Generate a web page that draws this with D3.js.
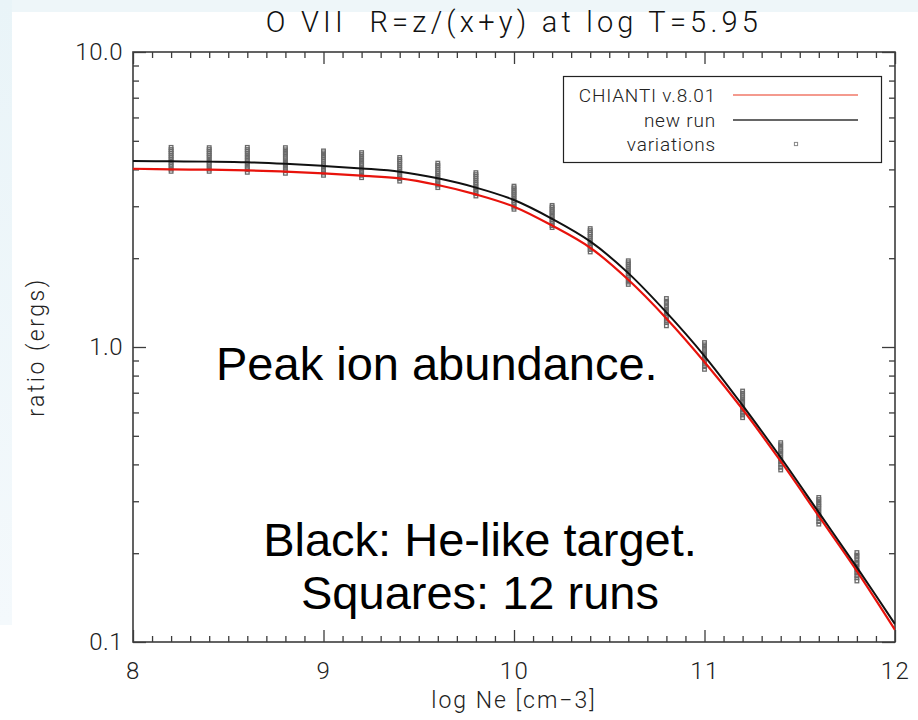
<!DOCTYPE html>
<html>
<head>
<meta charset="utf-8">
<script src="https://cdn.jsdelivr.net/npm/d3@7/dist/d3.min.js"></script>
<style>
  html, body { margin: 0; padding: 0; background: #ffffff; }
  svg { display: block; }
</style>
</head>
<body>
<svg id="chart" width="918" height="720"></svg>
<script>
// ---------------- data ----------------
const logNe = [8.0, 8.2, 8.4, 8.6, 8.8, 9.0, 9.2, 9.4, 9.6, 9.8, 10.0,
               10.2, 10.4, 10.6, 10.8, 11.0, 11.2, 11.4, 11.6, 11.8, 12.0];
const chiantiRatio = [4.02, 4.00, 3.99, 3.97, 3.93, 3.88, 3.81, 3.73, 3.54, 3.29, 2.99,
                      2.58, 2.17, 1.69, 1.25, 0.89, 0.615, 0.41, 0.267, 0.174, 0.110];
const newRunRatio  = [4.27, 4.26, 4.25, 4.23, 4.18, 4.11, 4.03, 3.93, 3.73, 3.47, 3.15,
                      2.72, 2.28, 1.78, 1.31, 0.932, 0.634, 0.422, 0.275, 0.179, 0.115];
const variationNe = [8.2, 8.4, 8.6, 8.8, 9.0, 9.2, 9.4, 9.6, 9.8, 10.0,
                     10.2, 10.4, 10.6, 10.8, 11.0, 11.2, 11.4, 11.6, 11.8];
const variationRuns = [
  [4.75,4.67,4.60,4.53,4.45,4.38,4.31,4.23,4.16,4.09,4.01,3.94],
  [4.74,4.67,4.59,4.52,4.45,4.38,4.30,4.23,4.16,4.08,4.01,3.94],
  [4.75,4.67,4.60,4.52,4.44,4.37,4.29,4.21,4.14,4.06,3.99,3.91],
  [4.74,4.66,4.58,4.51,4.43,4.35,4.27,4.19,4.11,4.04,3.96,3.88],
  [4.62,4.55,4.47,4.40,4.33,4.26,4.18,4.11,4.04,3.97,3.89,3.82],
  [4.56,4.49,4.41,4.34,4.27,4.19,4.12,4.04,3.97,3.90,3.82,3.75],
  [4.39,4.32,4.26,4.19,4.12,4.05,3.99,3.92,3.85,3.78,3.72,3.65],
  [4.20,4.13,4.07,4.00,3.93,3.87,3.80,3.74,3.67,3.60,3.54,3.47],
  [3.90,3.84,3.78,3.72,3.66,3.60,3.55,3.49,3.43,3.37,3.31,3.25],
  [3.51,3.46,3.40,3.35,3.30,3.25,3.19,3.14,3.09,3.04,2.98,2.93],
  [3.02,2.98,2.93,2.89,2.85,2.80,2.76,2.71,2.67,2.63,2.58,2.54],
  [2.52,2.48,2.44,2.41,2.37,2.33,2.29,2.25,2.21,2.18,2.14,2.10],
  [1.96,1.93,1.90,1.87,1.84,1.81,1.78,1.75,1.72,1.69,1.66,1.63],
  [1.46,1.43,1.41,1.38,1.36,1.33,1.31,1.28,1.26,1.23,1.21,1.18],
  [1.035,1.017,1.0,0.982,0.964,0.946,0.929,0.911,0.893,0.875,0.858,0.840],
  [0.709,0.697,0.685,0.673,0.661,0.649,0.637,0.624,0.612,0.600,0.588,0.576],
  [0.474,0.466,0.457,0.449,0.441,0.433,0.424,0.416,0.408,0.400,0.391,0.383],
  [0.309,0.304,0.298,0.293,0.288,0.283,0.277,0.272,0.267,0.262,0.256,0.251],
  [0.201,0.197,0.194,0.190,0.186,0.183,0.179,0.175,0.172,0.168,0.165,0.161]
];
const xMajorTicks = [8, 9, 10, 11, 12];
const xTickLabels = ["8", "9", "10", "11", "12"];
const xMinorTicks = [8.1,8.2,8.3,8.4,8.5,8.6,8.7,8.8,8.9,9.1,9.2,9.3,9.4,9.5,9.6,9.7,9.8,9.9,
                     10.1,10.2,10.3,10.4,10.5,10.6,10.7,10.8,10.9,11.1,11.2,11.3,11.4,11.5,11.6,11.7,11.8,11.9];
const yMajorTicks = [0.1, 1.0, 10.0];
const yTickLabels = ["0.1", "1.0", "10.0"];
const yMinorTicks = [0.2,0.3,0.4,0.5,0.6,0.7,0.8,0.9,2,3,4,5,6,7,8,9];
const legendLabels = ["CHIANTI v.8.01", "new run", "variations"];
const titleText = "O VII\u00a0\u00a0R=z/(x+y) at log T=5.95";
const xLabelText = "log Ne [cm\u22123]";
const yLabelText = "ratio (ergs)";
const noteLines = ["Peak ion abundance.", "Black: He-like target.", "Squares: 12 runs"];

// ---------------- layout ----------------
const W = 918, H = 720;
const L = 133, R = 895, T = 52, B = 642;
const svg = d3.select("#chart");
const thinFont = "Roboto, 'DejaVu Sans', sans-serif";

// page background pieces
svg.append("rect").attr("x", 0).attr("y", 0).attr("width", W).attr("height", H).attr("fill", "#ffffff");
const grad = svg.append("defs").append("linearGradient").attr("id", "lg").attr("x1", 0).attr("x2", 0).attr("y1", 0).attr("y2", 1);
grad.append("stop").attr("offset", "0%").attr("stop-color", "#e9f4f8");
grad.append("stop").attr("offset", "100%").attr("stop-color", "#f4f9fc");
svg.append("rect").attr("x", 0).attr("y", 0).attr("width", W).attr("height", 12).attr("fill", "#eef6f9");
svg.append("rect").attr("x", 0).attr("y", 0).attr("width", 12).attr("height", 625).attr("fill", "url(#lg)");

const x = d3.scaleLinear().domain([8, 12]).range([L, R]);
const y = d3.scaleLog().domain([0.1, 10]).range([B, T]);

const axisColor = "#3c3c3c";

function styleAxis(g) {
  g.selectAll(".domain").remove();
  g.selectAll(".tick line").attr("stroke", axisColor).attr("stroke-width", 1.3);
}

// bottom axis
svg.append("g").attr("transform", `translate(0,${B})`)
  .call(d3.axisBottom(x).tickValues(xMinorTicks).tickSize(-6).tickFormat(""))
  .call(styleAxis);
const gb = svg.append("g").attr("transform", `translate(0,${B})`)
  .call(d3.axisBottom(x).tickValues(xMajorTicks).tickSize(-12).tickPadding(20)
        .tickFormat((d, i) => xTickLabels[i]))
  .call(styleAxis);
gb.selectAll("text").attr("font-family", thinFont).attr("font-weight", 300)
  .attr("font-size", 24).attr("fill", "#222").attr("letter-spacing", 1.5);

// top axis
svg.append("g").attr("transform", `translate(0,${T})`)
  .call(d3.axisTop(x).tickValues(xMinorTicks).tickSize(-6).tickFormat(""))
  .call(styleAxis);
svg.append("g").attr("transform", `translate(0,${T})`)
  .call(d3.axisTop(x).tickValues(xMajorTicks).tickSize(-12).tickFormat(""))
  .call(styleAxis);

// left axis
svg.append("g").attr("transform", `translate(${L},0)`)
  .call(d3.axisLeft(y).tickValues(yMinorTicks).tickSize(-6).tickFormat(""))
  .call(styleAxis);
const gl = svg.append("g").attr("transform", `translate(${L},0)`)
  .call(d3.axisLeft(y).tickValues(yMajorTicks).tickSize(-13).tickPadding(10)
        .tickFormat((d, i) => yTickLabels[i]))
  .call(styleAxis);
gl.selectAll("text").attr("font-family", thinFont).attr("font-weight", 300)
  .attr("font-size", 24).attr("fill", "#222").attr("letter-spacing", 0.5);

// right axis
svg.append("g").attr("transform", `translate(${R},0)`)
  .call(d3.axisRight(y).tickValues(yMinorTicks).tickSize(-6).tickFormat(""))
  .call(styleAxis);
svg.append("g").attr("transform", `translate(${R},0)`)
  .call(d3.axisRight(y).tickValues(yMajorTicks).tickSize(-13).tickFormat(""))
  .call(styleAxis);

// frame
svg.append("rect").attr("x", L).attr("y", T).attr("width", R - L).attr("height", B - T)
  .attr("fill", "none").attr("stroke", axisColor).attr("stroke-width", 1.6);

// clip
svg.append("clipPath").attr("id", "clip").append("rect")
  .attr("x", L).attr("y", T).attr("width", R - L).attr("height", B - T);

// variations squares
const sq = 3.6;
const vg = svg.append("g").attr("clip-path", "url(#clip)");
variationNe.forEach((ne, i) => {
  vg.selectAll(null).data(variationRuns[i]).enter().append("rect")
    .attr("x", x(ne) - sq / 2).attr("y", d => y(d) - sq / 2)
    .attr("width", sq).attr("height", sq)
    .attr("fill", "none").attr("stroke", "#6a6a6a").attr("stroke-width", 1.3);
});

// lines
const line = (vals) => d3.line().curve(d3.curveCatmullRom.alpha(0.5))
  .x((d, i) => x(logNe[i])).y(d => y(d))(vals);
const lg = svg.append("g").attr("clip-path", "url(#clip)");
lg.append("path").attr("d", line(chiantiRatio)).attr("fill", "none")
  .attr("stroke", "#e8130c").attr("stroke-width", 2.2);
lg.append("path").attr("d", line(newRunRatio)).attr("fill", "none")
  .attr("stroke", "#111").attr("stroke-width", 2.0);

// legend
svg.append("rect").attr("x", 563.5).attr("y", 76.5).attr("width", 318).attr("height", 86)
  .attr("fill", "#fff").attr("stroke", "#222").attr("stroke-width", 1.2);
const legY = [95, 120, 144];
legendLabels.forEach((t, i) => {
  svg.append("text").attr("x", 716).attr("y", legY[i]).attr("dy", "0.35em")
    .attr("text-anchor", "end").attr("font-family", thinFont).attr("font-weight", 300)
    .attr("font-size", 19).attr("letter-spacing", 0.8).attr("fill", "#222").text(t);
});
svg.append("line").attr("x1", 733).attr("x2", 858).attr("y1", legY[0]).attr("y2", legY[0])
  .attr("stroke", "#f07868").attr("stroke-width", 1.6);
svg.append("line").attr("x1", 733).attr("x2", 858).attr("y1", legY[1]).attr("y2", legY[1])
  .attr("stroke", "#333").attr("stroke-width", 1.4);
svg.append("rect").attr("x", 796 - 1.6).attr("y", legY[2] - 1.6).attr("width", 3.2).attr("height", 3.2)
  .attr("fill", "none").attr("stroke", "#888").attr("stroke-width", 1);

// title & labels
svg.append("text").attr("x", (L + R) / 2).attr("y", 32).attr("text-anchor", "middle")
  .attr("font-family", thinFont).attr("font-weight", 300).attr("font-size", 29)
  .attr("letter-spacing", 4.2).attr("fill", "#111").text(titleText);
svg.append("text").attr("x", (L + R) / 2).attr("y", 708).attr("text-anchor", "middle")
  .attr("font-family", thinFont).attr("font-weight", 300).attr("font-size", 23)
  .attr("letter-spacing", 2).attr("fill", "#222").text(xLabelText);
svg.append("text").attr("transform", `translate(44,${(T + B) / 2}) rotate(-90)`)
  .attr("text-anchor", "middle").attr("font-family", thinFont).attr("font-weight", 300)
  .attr("font-size", 23).attr("letter-spacing", 2.5).attr("fill", "#222").text(yLabelText);

// annotation
const noteFont = "'Liberation Sans', Arial, sans-serif";
svg.append("text").attr("x", 216).attr("y", 380).attr("text-anchor", "start")
  .attr("font-family", noteFont).attr("font-size", 47).attr("fill", "#000").text(noteLines[0]);
svg.append("text").attr("x", 480).attr("y", 556).attr("text-anchor", "middle")
  .attr("font-family", noteFont).attr("font-size", 47).attr("fill", "#000").text(noteLines[1]);
svg.append("text").attr("x", 480).attr("y", 609).attr("text-anchor", "middle")
  .attr("font-family", noteFont).attr("font-size", 47).attr("fill", "#000").text(noteLines[2]);
</script>
</body>
</html>
